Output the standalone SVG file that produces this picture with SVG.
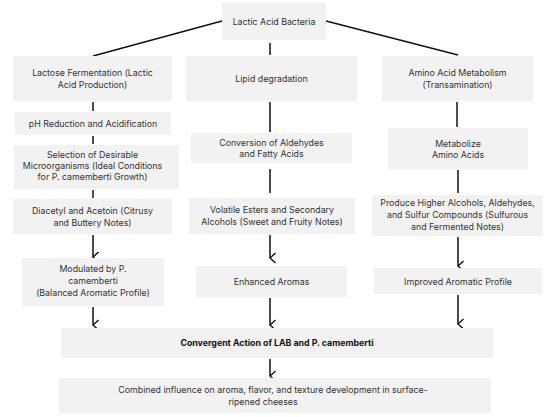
<svg xmlns="http://www.w3.org/2000/svg" width="550" height="417" viewBox="0 0 550 417">
<defs>
<style>
.b{fill:#f2f2f2}
text{font-family:Inter,"Liberation Sans",sans-serif;font-size:8.8px;fill:#333;text-anchor:middle}
.bold{font-weight:bold;fill:#111}
.c line{stroke:#111;stroke-width:1.5}
.a{marker-end:url(#ar)}
</style>
<marker id="ar" viewBox="0 0 12 8" refX="6" refY="7" markerWidth="12" markerHeight="8" markerUnits="userSpaceOnUse" orient="auto-start-reverse">
<path d="M1,1.5 L6,7 L11,1.5" fill="none" stroke="#111" stroke-width="1.4"/>
</marker>
</defs>
<rect width="550" height="417" fill="#fff"/>
<g class="c" id="connectors">
<line x1="222" y1="21" x2="93" y2="56"/>
<line x1="326" y1="21" x2="458" y2="55"/>
<line x1="270" y1="43" x2="270" y2="55"/>
<line x1="93" y1="102" x2="93" y2="111"/>
<line x1="93" y1="136" x2="93" y2="144"/>
<line x1="93" y1="190" x2="93" y2="198"/>
<line class="a" x1="93" y1="235" x2="93" y2="257"/>
<line class="a" x1="93" y1="307" x2="93" y2="325"/>
<line x1="270" y1="102" x2="270" y2="132"/>
<line x1="270" y1="169" x2="270" y2="193"/>
<line class="a" x1="270" y1="235" x2="270" y2="258"/>
<line class="a" x1="270" y1="298" x2="270" y2="325"/>
<line class="a" x1="270" y1="359" x2="270" y2="376"/>
<line x1="457" y1="102" x2="457" y2="127"/>
<line x1="458" y1="170" x2="458" y2="193"/>
<line class="a" x1="458" y1="237" x2="458" y2="266"/>
<line class="a" x1="458" y1="295" x2="458" y2="324"/>
</g>
<g id="lab"><rect class="b" x="222" y="3" width="104" height="37"/><text x="274" y="25">Lactic Acid Bacteria</text></g>
<g id="lactose"><rect class="b" x="13" y="56" width="159" height="45"/><text x="92.5" y="76">Lactose Fermentation (Lactic</text><text x="92.5" y="88">Acid Production)</text></g>
<g id="lipid"><rect class="b" x="186" y="56" width="171" height="45"/><text x="271.5" y="82">Lipid degradation</text></g>
<g id="amino"><rect class="b" x="382" y="56" width="151" height="45"/><text x="457.5" y="76">Amino Acid Metabolism</text><text x="457.5" y="88">(Transamination)</text></g>
<g id="ph"><rect class="b" x="15" y="112" width="156" height="23"/><text x="93" y="126.5">pH Reduction and  Acidification</text></g>
<g id="selection"><rect class="b" x="14" y="145" width="165" height="44"/><text x="92.5" y="158">Selection of Desirable</text><text x="92.5" y="169">Microorganisms (Ideal Conditions</text><text x="92.5" y="180">for P. camemberti Growth)</text></g>
<g id="diacetyl"><rect class="b" x="13" y="199" width="159" height="35"/><text x="92.5" y="214">Diacetyl and Acetoin (Citrusy</text><text x="92.5" y="226">and Buttery Notes)</text></g>
<g id="modulated"><rect class="b" x="22" y="258" width="142" height="48"/><text x="93" y="272">Modulated by P.</text><text x="93" y="284">camemberti</text><text x="93" y="296">(Balanced Aromatic Profile)</text></g>
<g id="conversion"><rect class="b" x="191" y="133" width="161" height="30"/><text x="271.5" y="146">Conversion of Aldehydes</text><text x="271.5" y="157">and Fatty Acids</text></g>
<g id="volatile"><rect class="b" x="189" y="198" width="166" height="36"/><text x="272" y="213">Volatile Esters and Secondary</text><text x="272" y="225">Alcohols (Sweet and Fruity Notes)</text></g>
<g id="enhanced"><rect class="b" x="196" y="266" width="151" height="31"/><text x="271.5" y="285">Enhanced Aromas</text></g>
<g id="metabolize"><rect class="b" x="388" y="128" width="140" height="41"/><text x="458" y="147">Metabolize</text><text x="458" y="158">Amino Acids</text></g>
<g id="produce"><rect class="b" x="372" y="195" width="171" height="41"/><text x="457.5" y="206">Produce Higher Alcohols, Aldehydes,</text><text x="457.5" y="218">and Sulfur Compounds (Sulfurous</text><text x="457.5" y="230">and Fermented Notes)</text></g>
<g id="improved"><rect class="b" x="374" y="268" width="168" height="26"/><text x="458" y="285">Improved Aromatic Profile</text></g>
<g id="convergent"><rect class="b" x="61" y="328" width="432" height="30"/><text class="bold" x="277" y="346">Convergent Action of LAB and P. camemberti</text></g>
<g id="combined"><rect class="b" x="59" y="378" width="432" height="35"/><text x="273" y="393">Combined influence on aroma, flavor, and texture development in surface-</text><text x="263" y="405">ripened cheeses</text></g>
</svg>
